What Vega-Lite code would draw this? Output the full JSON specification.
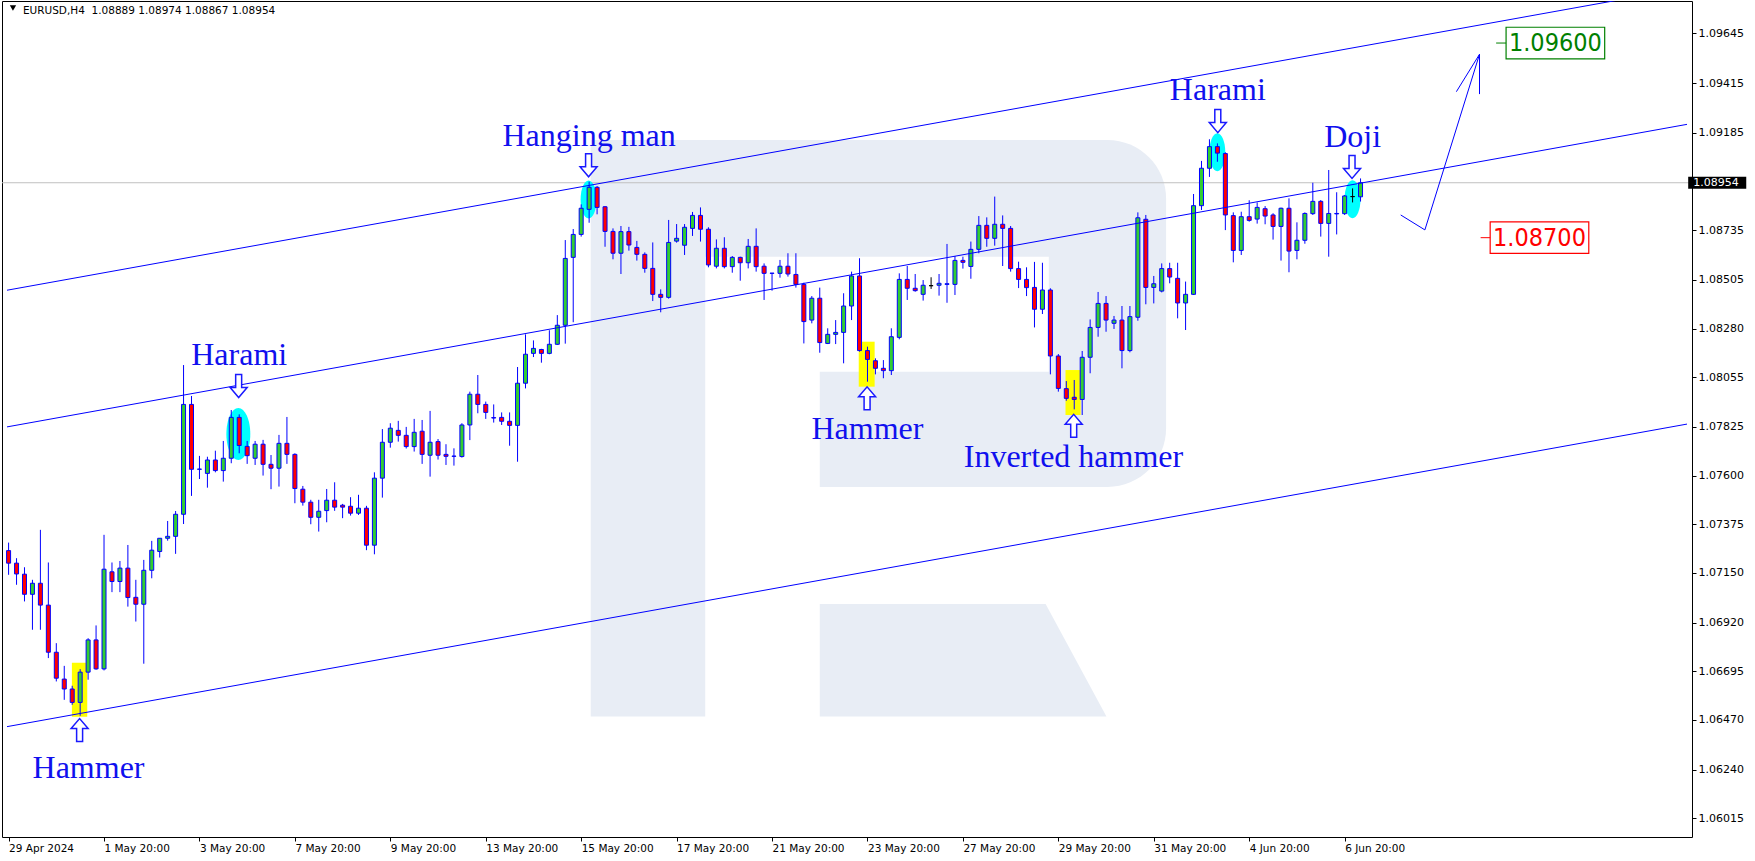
{
"$schema":"https://vega.github.io/schema/vega-lite/v6.json",
"width":1690,"height":836,
"autosize":{"type":"none"},
"padding":{"left":2,"top":1,"right":63,"bottom":24},
"background":"white",
"config":{"view":{"stroke":"#000000","strokeWidth":1},"axis":{"grid":false,"domain":false,"tickColor":"#000000","labelColor":"#000000","labelFont":"DejaVu Sans"}},
"datasets":{
"candles":[
{"i":0,"o":1.07253,"h":1.0729,"l":1.07141,"c":1.07195},
{"i":1,"o":1.07195,"h":1.07218,"l":1.07095,"c":1.07145},
{"i":2,"o":1.07144,"h":1.07176,"l":1.07018,"c":1.07051},
{"i":3,"o":1.07051,"h":1.07118,"l":1.06887,"c":1.07102},
{"i":4,"o":1.07102,"h":1.07349,"l":1.06887,"c":1.07001},
{"i":5,"o":1.07001,"h":1.07198,"l":1.06756,"c":1.06783},
{"i":6,"o":1.06783,"h":1.06825,"l":1.06648,"c":1.06663},
{"i":7,"o":1.06659,"h":1.0672,"l":1.06563,"c":1.06613},
{"i":8,"o":1.06613,"h":1.06628,"l":1.0654,"c":1.06551},
{"i":9,"o":1.06551,"h":1.06705,"l":1.06489,"c":1.06691},
{"i":10,"o":1.06691,"h":1.06848,"l":1.06656,"c":1.0684},
{"i":11,"o":1.0684,"h":1.06907,"l":1.06702,"c":1.06706},
{"i":12,"o":1.06706,"h":1.07326,"l":1.06699,"c":1.07167},
{"i":13,"o":1.07155,"h":1.07198,"l":1.07061,"c":1.0711},
{"i":14,"o":1.0711,"h":1.07205,"l":1.07061,"c":1.07172},
{"i":15,"o":1.07172,"h":1.07279,"l":1.06994,"c":1.07036},
{"i":16,"o":1.07037,"h":1.07118,"l":1.06925,"c":1.07005},
{"i":17,"o":1.07005,"h":1.0721,"l":1.0673,"c":1.07162},
{"i":18,"o":1.07162,"h":1.07298,"l":1.07125,"c":1.07255},
{"i":19,"o":1.07249,"h":1.0731,"l":1.07221,"c":1.0731},
{"i":20,"o":1.0731,"h":1.0739,"l":1.07299,"c":1.07319},
{"i":21,"o":1.07319,"h":1.07436,"l":1.07238,"c":1.07421},
{"i":22,"o":1.07421,"h":1.08111,"l":1.07376,"c":1.07929},
{"i":23,"o":1.07929,"h":1.07968,"l":1.07506,"c":1.07629},
{"i":24,"o":1.07629,"h":1.07691,"l":1.07584,"c":1.0763},
{"i":25,"o":1.0761,"h":1.07687,"l":1.07544,"c":1.07672},
{"i":26,"o":1.07672,"h":1.07715,"l":1.07615,"c":1.07623},
{"i":27,"o":1.07623,"h":1.0776,"l":1.07572,"c":1.0768},
{"i":28,"o":1.0768,"h":1.07903,"l":1.07657,"c":1.07869},
{"i":29,"o":1.07869,"h":1.07883,"l":1.07703,"c":1.07739},
{"i":30,"o":1.07735,"h":1.0776,"l":1.07654,"c":1.07692},
{"i":31,"o":1.0768,"h":1.0776,"l":1.07649,"c":1.07745},
{"i":32,"o":1.07745,"h":1.07765,"l":1.076,"c":1.07652},
{"i":33,"o":1.07652,"h":1.07695,"l":1.07537,"c":1.07634},
{"i":34,"o":1.07634,"h":1.07788,"l":1.07549,"c":1.07749},
{"i":35,"o":1.07749,"h":1.07871,"l":1.07654,"c":1.07698},
{"i":36,"o":1.07698,"h":1.07703,"l":1.07472,"c":1.0754},
{"i":37,"o":1.07537,"h":1.07552,"l":1.07461,"c":1.07477},
{"i":38,"o":1.07477,"h":1.07488,"l":1.07375,"c":1.07407},
{"i":39,"o":1.07407,"h":1.07488,"l":1.07341,"c":1.07435},
{"i":40,"o":1.07438,"h":1.07538,"l":1.07384,"c":1.07486},
{"i":41,"o":1.07486,"h":1.07569,"l":1.07437,"c":1.07454},
{"i":42,"o":1.07463,"h":1.07469,"l":1.07403,"c":1.07454},
{"i":43,"o":1.07458,"h":1.075,"l":1.07415,"c":1.07426},
{"i":44,"o":1.07426,"h":1.07511,"l":1.07418,"c":1.07449},
{"i":45,"o":1.07449,"h":1.0746,"l":1.07255,"c":1.07278},
{"i":46,"o":1.07278,"h":1.07615,"l":1.07236,"c":1.07588},
{"i":47,"o":1.07588,"h":1.07815,"l":1.07498,"c":1.07754},
{"i":48,"o":1.07754,"h":1.07842,"l":1.07729,"c":1.07819},
{"i":49,"o":1.07809,"h":1.07853,"l":1.07757,"c":1.07786},
{"i":50,"o":1.07786,"h":1.07825,"l":1.07725,"c":1.07734},
{"i":51,"o":1.07734,"h":1.07862,"l":1.07711,"c":1.078},
{"i":52,"o":1.07805,"h":1.07857,"l":1.07654,"c":1.07698},
{"i":53,"o":1.07694,"h":1.07899,"l":1.07595,"c":1.07754},
{"i":54,"o":1.07757,"h":1.07769,"l":1.07674,"c":1.07694},
{"i":55,"o":1.07698,"h":1.07745,"l":1.07649,"c":1.07689},
{"i":56,"o":1.07689,"h":1.07726,"l":1.07646,"c":1.0769},
{"i":57,"o":1.07688,"h":1.07842,"l":1.07683,"c":1.07834},
{"i":58,"o":1.07834,"h":1.07988,"l":1.07764,"c":1.07976},
{"i":59,"o":1.07976,"h":1.08065,"l":1.07888,"c":1.07929},
{"i":60,"o":1.07929,"h":1.07942,"l":1.07862,"c":1.07892},
{"i":61,"o":1.07868,"h":1.07929,"l":1.07845,"c":1.07866},
{"i":62,"o":1.07869,"h":1.07892,"l":1.07834,"c":1.07851},
{"i":63,"o":1.07851,"h":1.07892,"l":1.07738,"c":1.07832},
{"i":64,"o":1.07832,"h":1.08102,"l":1.07664,"c":1.08027},
{"i":65,"o":1.08027,"h":1.08253,"l":1.08003,"c":1.08161},
{"i":66,"o":1.08165,"h":1.08225,"l":1.08148,"c":1.08188},
{"i":67,"o":1.08183,"h":1.08186,"l":1.08122,"c":1.08165},
{"i":68,"o":1.08165,"h":1.08272,"l":1.08161,"c":1.08207},
{"i":69,"o":1.08207,"h":1.08342,"l":1.08204,"c":1.08295},
{"i":70,"o":1.08295,"h":1.08689,"l":1.0821,"c":1.08604},
{"i":71,"o":1.08609,"h":1.0874,"l":1.08309,"c":1.08715},
{"i":72,"o":1.08715,"h":1.08854,"l":1.08705,"c":1.08836},
{"i":73,"o":1.08831,"h":1.08959,"l":1.08769,"c":1.08933},
{"i":74,"o":1.08933,"h":1.08939,"l":1.08808,"c":1.0884},
{"i":75,"o":1.08843,"h":1.08846,"l":1.08658,"c":1.08729},
{"i":76,"o":1.08729,"h":1.08743,"l":1.086,"c":1.08628},
{"i":77,"o":1.08628,"h":1.08754,"l":1.08532,"c":1.08728},
{"i":78,"o":1.08728,"h":1.0875,"l":1.0864,"c":1.08666},
{"i":79,"o":1.08655,"h":1.08685,"l":1.08594,"c":1.08623},
{"i":80,"o":1.08623,"h":1.08632,"l":1.08538,"c":1.08558},
{"i":81,"o":1.08558,"h":1.08678,"l":1.08407,"c":1.08438},
{"i":82,"o":1.08438,"h":1.08461,"l":1.08355,"c":1.08424},
{"i":83,"o":1.08424,"h":1.08782,"l":1.08418,"c":1.08678},
{"i":84,"o":1.08684,"h":1.08763,"l":1.08677,"c":1.08697},
{"i":85,"o":1.08665,"h":1.08763,"l":1.0862,"c":1.08748},
{"i":86,"o":1.08743,"h":1.08819,"l":1.08708,"c":1.08803},
{"i":87,"o":1.08803,"h":1.0884,"l":1.08682,"c":1.08739},
{"i":88,"o":1.08739,"h":1.08748,"l":1.08563,"c":1.08574},
{"i":89,"o":1.08568,"h":1.08692,"l":1.08558,"c":1.08651},
{"i":90,"o":1.08651,"h":1.08702,"l":1.08558,"c":1.08566},
{"i":91,"o":1.08566,"h":1.08615,"l":1.08538,"c":1.08609},
{"i":92,"o":1.08609,"h":1.08612,"l":1.08501,"c":1.08584},
{"i":93,"o":1.08584,"h":1.08694,"l":1.08558,"c":1.0866},
{"i":94,"o":1.0866,"h":1.08743,"l":1.08543,"c":1.08566},
{"i":95,"o":1.08568,"h":1.08581,"l":1.08412,"c":1.08535},
{"i":96,"o":1.08535,"h":1.08537,"l":1.08455,"c":1.08536},
{"i":97,"o":1.08535,"h":1.08597,"l":1.08515,"c":1.08568},
{"i":98,"o":1.08568,"h":1.08628,"l":1.0852,"c":1.08532},
{"i":99,"o":1.0853,"h":1.08628,"l":1.08469,"c":1.08484},
{"i":100,"o":1.08484,"h":1.08492,"l":1.08211,"c":1.08312},
{"i":101,"o":1.08319,"h":1.0843,"l":1.08304,"c":1.0842},
{"i":102,"o":1.0842,"h":1.08469,"l":1.08168,"c":1.08215},
{"i":103,"o":1.08211,"h":1.08281,"l":1.08208,"c":1.08253},
{"i":104,"o":1.08253,"h":1.08319,"l":1.08208,"c":1.08262},
{"i":105,"o":1.08262,"h":1.08443,"l":1.08119,"c":1.08384},
{"i":106,"o":1.08384,"h":1.08543,"l":1.08319,"c":1.08523},
{"i":107,"o":1.08523,"h":1.08605,"l":1.08173,"c":1.08178},
{"i":108,"o":1.08178,"h":1.08196,"l":1.08034,"c":1.08137},
{"i":109,"o":1.08131,"h":1.08142,"l":1.08068,"c":1.08096},
{"i":110,"o":1.08096,"h":1.08134,"l":1.0805,"c":1.08085},
{"i":111,"o":1.08085,"h":1.08281,"l":1.08065,"c":1.08242},
{"i":112,"o":1.08239,"h":1.08535,"l":1.0823,"c":1.08507},
{"i":113,"o":1.08507,"h":1.08569,"l":1.08412,"c":1.08466},
{"i":114,"o":1.08466,"h":1.08532,"l":1.0845,"c":1.08455},
{"i":115,"o":1.08438,"h":1.08504,"l":1.08409,"c":1.0848},
{"i":116,"o":1.08478,"h":1.08517,"l":1.08463,"c":1.08478},
{"i":117,"o":1.0848,"h":1.08532,"l":1.08432,"c":1.08489},
{"i":118,"o":1.08484,"h":1.08671,"l":1.08399,"c":1.08487},
{"i":119,"o":1.08484,"h":1.08615,"l":1.08435,"c":1.08595},
{"i":120,"o":1.08595,"h":1.08612,"l":1.08557,"c":1.08586},
{"i":121,"o":1.08567,"h":1.08682,"l":1.0851,"c":1.08646},
{"i":122,"o":1.08646,"h":1.088,"l":1.08628,"c":1.08757},
{"i":123,"o":1.08757,"h":1.08794,"l":1.08658,"c":1.08697},
{"i":124,"o":1.08697,"h":1.0889,"l":1.08663,"c":1.08762},
{"i":125,"o":1.08762,"h":1.08803,"l":1.08569,"c":1.08743},
{"i":126,"o":1.08743,"h":1.08754,"l":1.08543,"c":1.08557},
{"i":127,"o":1.08557,"h":1.08589,"l":1.08467,"c":1.08507},
{"i":128,"o":1.08507,"h":1.08563,"l":1.0843,"c":1.08469},
{"i":129,"o":1.0847,"h":1.08588,"l":1.08285,"c":1.08369},
{"i":130,"o":1.08369,"h":1.08584,"l":1.08347,"c":1.08458},
{"i":131,"o":1.08458,"h":1.08466,"l":1.08068,"c":1.08153},
{"i":132,"o":1.08153,"h":1.08162,"l":1.07988,"c":1.08003},
{"i":133,"o":1.08002,"h":1.08037,"l":1.07946,"c":1.07957},
{"i":134,"o":1.07962,"h":1.08042,"l":1.07906,"c":1.07952},
{"i":135,"o":1.07952,"h":1.08176,"l":1.0788,"c":1.08147},
{"i":136,"o":1.08147,"h":1.08322,"l":1.08073,"c":1.08285},
{"i":137,"o":1.08285,"h":1.08449,"l":1.08242,"c":1.08396},
{"i":138,"o":1.08396,"h":1.0843,"l":1.08265,"c":1.08319},
{"i":139,"o":1.08304,"h":1.08338,"l":1.08278,"c":1.08319},
{"i":140,"o":1.08319,"h":1.08384,"l":1.08096,"c":1.08178},
{"i":141,"o":1.08178,"h":1.08384,"l":1.0817,"c":1.08335},
{"i":142,"o":1.08332,"h":1.08817,"l":1.08316,"c":1.08792},
{"i":143,"o":1.08785,"h":1.08805,"l":1.08392,"c":1.0847},
{"i":144,"o":1.0847,"h":1.08523,"l":1.08396,"c":1.08487},
{"i":145,"o":1.08453,"h":1.08581,"l":1.08447,"c":1.08557},
{"i":146,"o":1.08557,"h":1.08584,"l":1.08489,"c":1.08518},
{"i":147,"o":1.08512,"h":1.08584,"l":1.08327,"c":1.08398},
{"i":148,"o":1.08398,"h":1.08497,"l":1.08273,"c":1.08438},
{"i":149,"o":1.08438,"h":1.08902,"l":1.08435,"c":1.08848},
{"i":150,"o":1.08848,"h":1.09055,"l":1.08828,"c":1.09021},
{"i":151,"o":1.09021,"h":1.09155,"l":1.08981,"c":1.09121},
{"i":152,"o":1.09121,"h":1.09136,"l":1.09051,"c":1.09091},
{"i":153,"o":1.09089,"h":1.09095,"l":1.08735,"c":1.08805},
{"i":154,"o":1.08802,"h":1.08817,"l":1.08586,"c":1.08641},
{"i":155,"o":1.08641,"h":1.0882,"l":1.0862,"c":1.08797},
{"i":156,"o":1.08797,"h":1.08873,"l":1.08774,"c":1.0878},
{"i":157,"o":1.08786,"h":1.08863,"l":1.08765,"c":1.0884},
{"i":158,"o":1.08834,"h":1.08846,"l":1.08762,"c":1.088},
{"i":159,"o":1.08805,"h":1.08813,"l":1.08691,"c":1.08752},
{"i":160,"o":1.08752,"h":1.08839,"l":1.08594,"c":1.08836},
{"i":161,"o":1.08836,"h":1.08882,"l":1.0854,"c":1.08638},
{"i":162,"o":1.08641,"h":1.08771,"l":1.086,"c":1.08688},
{"i":163,"o":1.08688,"h":1.08817,"l":1.08672,"c":1.08812},
{"i":164,"o":1.08811,"h":1.08954,"l":1.08805,"c":1.08868},
{"i":165,"o":1.08868,"h":1.08874,"l":1.08705,"c":1.08766},
{"i":166,"o":1.08766,"h":1.09013,"l":1.08612,"c":1.08812},
{"i":167,"o":1.0881,"h":1.0891,"l":1.08715,"c":1.08812},
{"i":168,"o":1.08811,"h":1.08897,"l":1.08805,"c":1.08893},
{"i":169,"o":1.0889,"h":1.08928,"l":1.08863,"c":1.0889},
{"i":170,"o":1.08889,"h":1.08974,"l":1.08867,"c":1.08954}
],
"wm":[
{"part":"stem","i1":73.2,"i2":87.6,"p1":1.09152,"p2":1.06486},
{"part":"top","i1":87.4,"i2":131.0,"p1":1.09152,"p2":1.08612},
{"part":"lower","i1":102.0,"i2":131.0,"p1":1.0808,"p2":1.07547}
],
"wmr":[{"part":"bowl","i1":130.8,"i2":145.55,"p1":1.09152,"p2":1.07547}],
"wml":[
{"i":102.0,"p":1.07006,"p2":1.06486},
{"i":130.4,"p":1.07006,"p2":1.06486},
{"i":138.05,"p":1.06486,"p2":1.06486}
],
"pl":[{"p":1.08954}],
"yel":[
{"name":"Hammer","i1":7.96,"i2":9.89,"p1":1.06735,"p2":1.06485},
{"name":"Hammer","i1":106.9,"i2":108.9,"p1":1.08219,"p2":1.08011},
{"name":"Inverted hammer","i1":132.9,"i2":134.8,"p1":1.08088,"p2":1.0788}
],
"cy1":[{"name":"Harami","i":28.89,"p":1.07792}],
"cy2":[
{"name":"Hanging man","i":72.93,"p":1.08877},
{"name":"Harami","i":151.99,"p":1.09095},
{"name":"Doji","i":168.99,"p":1.08878}
],
"chan":[
{"ln":"upper","i":-0.2,"p":1.08457},{"ln":"upper","i":211.05,"p":1.09856},
{"ln":"middle","i":-0.2,"p":1.07825},{"ln":"middle","i":211.05,"p":1.09224},
{"ln":"lower","i":-0.2,"p":1.06439},{"ln":"lower","i":211.05,"p":1.07838}
],
"fc":[
{"seg":1,"k":1,"i":175.05,"p":1.08805},
{"seg":1,"k":2,"i":178.09,"p":1.08736},
{"seg":1,"k":3,"i":184.96,"p":1.09548},
{"seg":2,"k":1,"i":182.05,"p":1.09375},
{"seg":2,"k":2,"i":184.96,"p":1.09548},
{"seg":2,"k":3,"i":184.96,"p":1.09364}
],
"adn":[
{"name":"Harami","i":28.93,"p":1.08014},
{"name":"Hanging man","i":72.93,"p":1.09035},
{"name":"Harami","i":152.05,"p":1.09239},
{"name":"Doji","i":168.93,"p":1.09027}
],
"aup":[
{"name":"Hammer","i":8.93,"p":1.06423},
{"name":"Hammer","i":107.95,"p":1.07957},
{"name":"Inverted hammer","i":133.93,"p":1.0783}
],
"lab":[
{"t":"Hammer","i":10.05,"p":1.06203},
{"t":"Harami","i":29.0,"p":1.08112},
{"t":"Hanging man","i":73.0,"p":1.09124},
{"t":"Hammer","i":108.0,"p":1.07768},
{"t":"Inverted hammer","i":133.9,"p":1.07638},
{"t":"Harami","i":152.05,"p":1.09336},
{"t":"Doji","i":169.0,"p":1.09121}
],
"lv":[
{"kind":"tp","t":"1.09600","p":1.096,"i1":188.3,"i2":200.7,"p1":1.09673,"p2":1.09527,"d1":187.05,"ti":194.5},
{"kind":"sl","t":"1.08700","p":1.087,"i1":186.3,"i2":198.7,"p1":1.08773,"p2":1.08627,"d1":185.1,"ti":192.5}
],
"cur":[{"t":"1.08954","p":1.08954,"i1":211.2,"i2":218.5,"p1":1.08982,"p2":1.08926,"ti":211.84}],
"ttl":[{"t":"EURUSD,H4\u00a0 1.08889 1.08974 1.08867 1.08954","i":1.8,"p":1.09734,"ti":0.55,"tp":1.09762}]
},
"layer":[
{"data":{"name":"wm"},"mark":{"type":"rect","color":"#e8edf5","opacity":1},
 "encoding":{"x":{"field":"i1","type":"quantitative","scale":{"domain":[-0.2,211.05],"nice":false,"zero":false}},"x2":{"field":"i2"},
 "y":{"field":"p1","type":"quantitative","scale":{"domain":[1.059287,1.097944],"nice":false,"zero":false}},"y2":{"field":"p2"}}},
{"data":{"name":"wmr"},"mark":{"type":"rect","color":"#e8edf5","opacity":1,"cornerRadiusTopRight":115,"cornerRadiusBottomRight":115},
 "encoding":{"x":{"field":"i1","type":"quantitative","scale":{"domain":[-0.2,211.05],"nice":false,"zero":false}},"x2":{"field":"i2"},
 "y":{"field":"p1","type":"quantitative","scale":{"domain":[1.059287,1.097944],"nice":false,"zero":false}},"y2":{"field":"p2"}}},
{"data":{"name":"wml"},"mark":{"type":"area","color":"#e8edf5","opacity":1,"orient":"vertical"},
 "encoding":{"x":{"field":"i","type":"quantitative","scale":{"domain":[-0.2,211.05],"nice":false,"zero":false}},
 "y":{"field":"p","type":"quantitative","scale":{"domain":[1.059287,1.097944],"nice":false,"zero":false}},"y2":{"field":"p2"}}},
{"data":{"name":"pl"},"mark":{"type":"rule","color":"#c0c0c0","strokeWidth":1,"opacity":1},
 "encoding":{"y":{"field":"p","type":"quantitative","scale":{"domain":[1.059287,1.097944],"nice":false,"zero":false}}}},
{"data":{"name":"yel"},"mark":{"type":"rect","color":"#ffff00","opacity":1},
 "encoding":{"x":{"field":"i1","type":"quantitative","scale":{"domain":[-0.2,211.05],"nice":false,"zero":false}},"x2":{"field":"i2"},
 "y":{"field":"p1","type":"quantitative","scale":{"domain":[1.059287,1.097944],"nice":false,"zero":false}},"y2":{"field":"p2"}}},
{"data":{"name":"cy1"},"mark":{"type":"point","filled":true,"color":"#00ffff","opacity":1,"strokeWidth":0,"size":2704,"shape":"M0,-1C0.254,-1 0.46,-0.552 0.46,0C0.46,0.552 0.254,1 0,1C-0.254,1 -0.46,0.552 -0.46,0C-0.46,-0.552 -0.254,-1 0,-1Z"},
 "encoding":{"x":{"field":"i","type":"quantitative","scale":{"domain":[-0.2,211.05],"nice":false,"zero":false}},
 "y":{"field":"p","type":"quantitative","scale":{"domain":[1.059287,1.097944],"nice":false,"zero":false}}}},
{"data":{"name":"cy2"},"mark":{"type":"point","filled":true,"color":"#00ffff","opacity":1,"strokeWidth":0,"size":1444,"shape":"M0,-1C0.232,-1 0.42,-0.552 0.42,0C0.42,0.552 0.232,1 0,1C-0.232,1 -0.42,0.552 -0.42,0C-0.42,-0.552 -0.232,-1 0,-1Z"},
 "encoding":{"x":{"field":"i","type":"quantitative","scale":{"domain":[-0.2,211.05],"nice":false,"zero":false}},
 "y":{"field":"p","type":"quantitative","scale":{"domain":[1.059287,1.097944],"nice":false,"zero":false}}}},
{"data":{"name":"candles"},"mark":{"type":"rule","strokeWidth":1,"opacity":1},
 "encoding":{"x":{"field":"i","type":"quantitative","scale":{"domain":[-0.2,211.05],"nice":false,"zero":false},
   "axis":{"orient":"bottom","values":[0,12,24,36,48,60,72,84,96,108,120,132,144,156,168],
     "labelExpr":"['29 Apr 2024','1 May 20:00','3 May 20:00','7 May 20:00','9 May 20:00','13 May 20:00','15 May 20:00','17 May 20:00','21 May 20:00','23 May 20:00','27 May 20:00','29 May 20:00','31 May 20:00','4 Jun 20:00','6 Jun 20:00'][round(datum.value/12)]",
     "labelAlign":"left","labelBaseline":"top","labelPadding":2,"tickSize":4,"tickColor":"#000000","domain":false,"grid":false,"title":null,
     "labelFont":"DejaVu Sans","labelFontSize":10.5,"labelColor":"#000000","labelOverlap":false,"labelFlush":false,"labelBound":false}},
 "y":{"field":"l","type":"quantitative","scale":{"domain":[1.059287,1.097944],"nice":false,"zero":false},
   "axis":{"orient":"right","values":[1.06015,1.0624,1.0647,1.06695,1.0692,1.0715,1.07375,1.076,1.07825,1.08055,1.0828,1.08505,1.08735,1.09185,1.09415,1.09645],
     "format":".5f","labelAlign":"left","labelBaseline":"middle","labelPadding":2,"tickSize":4,"tickColor":"#000000","domain":false,"grid":false,"title":null,
     "labelFont":"DejaVu Sans","labelFontSize":11,"labelColor":"#000000","labelOverlap":false,"labelFlush":false,"labelBound":false}},
 "y2":{"field":"h"},
 "color":{"condition":{"test":"datum.o === datum.c","value":"#000000"},"value":"#0000ff"}}},
{"data":{"name":"candles"},"mark":{"type":"bar","orient":"vertical","size":4,"strokeWidth":1,"opacity":1},
 "encoding":{"x":{"field":"i","type":"quantitative","scale":{"domain":[-0.2,211.05],"nice":false,"zero":false}},
 "y":{"field":"o","type":"quantitative","scale":{"domain":[1.059287,1.097944],"nice":false,"zero":false}},
 "y2":{"field":"c"},
 "fill":{"condition":{"test":"datum.c > datum.o","value":"#32cd32"},"value":"#ff0000"},
 "stroke":{"condition":{"test":"datum.o === datum.c","value":"#000000"},"value":"#0000ff"}}},
{"data":{"name":"chan"},"mark":{"type":"line","color":"#0000ff","strokeWidth":1,"clip":true,"opacity":1},
 "encoding":{"x":{"field":"i","type":"quantitative","scale":{"domain":[-0.2,211.05],"nice":false,"zero":false}},
 "y":{"field":"p","type":"quantitative","scale":{"domain":[1.059287,1.097944],"nice":false,"zero":false}},
 "detail":{"field":"ln"}}},
{"data":{"name":"fc"},"mark":{"type":"line","color":"#0000ff","strokeWidth":1,"opacity":1},
 "encoding":{"x":{"field":"i","type":"quantitative","scale":{"domain":[-0.2,211.05],"nice":false,"zero":false}},
 "y":{"field":"p","type":"quantitative","scale":{"domain":[1.059287,1.097944],"nice":false,"zero":false}},
 "detail":{"field":"seg"},"order":{"field":"k"}}},
{"data":{"name":"adn"},"mark":{"type":"point","filled":true,"fill":"#ffffff","stroke":"#1a1aff","strokeWidth":1.5,"opacity":1,"size":529,"shape":"M-0.26,-1L0.26,-1L0.26,0.13L0.74,0.13L0,1L-0.74,0.13L-0.26,0.13Z"},
 "encoding":{"x":{"field":"i","type":"quantitative","scale":{"domain":[-0.2,211.05],"nice":false,"zero":false}},
 "y":{"field":"p","type":"quantitative","scale":{"domain":[1.059287,1.097944],"nice":false,"zero":false}}}},
{"data":{"name":"aup"},"mark":{"type":"point","filled":true,"fill":"#ffffff","stroke":"#1a1aff","strokeWidth":1.5,"opacity":1,"size":529,"shape":"M-0.26,1L0.26,1L0.26,-0.13L0.74,-0.13L0,-1L-0.74,-0.13L-0.26,-0.13Z"},
 "encoding":{"x":{"field":"i","type":"quantitative","scale":{"domain":[-0.2,211.05],"nice":false,"zero":false}},
 "y":{"field":"p","type":"quantitative","scale":{"domain":[1.059287,1.097944],"nice":false,"zero":false}}}},
{"data":{"name":"lab"},"mark":{"type":"text","font":"Liberation Serif","fontSize":32,"align":"center","baseline":"alphabetic","color":"#1010ee","opacity":1},
 "encoding":{"x":{"field":"i","type":"quantitative","scale":{"domain":[-0.2,211.05],"nice":false,"zero":false}},
 "y":{"field":"p","type":"quantitative","scale":{"domain":[1.059287,1.097944],"nice":false,"zero":false}},
 "text":{"field":"t"}}},
{"data":{"name":"lv"},"mark":{"type":"rect","fill":"#ffffff","strokeWidth":1.2,"opacity":1},
 "encoding":{"x":{"field":"i1","type":"quantitative","scale":{"domain":[-0.2,211.05],"nice":false,"zero":false}},"x2":{"field":"i2"},
 "y":{"field":"p1","type":"quantitative","scale":{"domain":[1.059287,1.097944],"nice":false,"zero":false}},"y2":{"field":"p2"},
 "stroke":{"field":"kind","type":"nominal","scale":{"domain":["tp","sl"],"range":["#008000","#ff0000"]},"legend":null}}},
{"data":{"name":"lv"},"mark":{"type":"rule","strokeWidth":1,"opacity":1},
 "encoding":{"x":{"field":"d1","type":"quantitative","scale":{"domain":[-0.2,211.05],"nice":false,"zero":false}},"x2":{"field":"i1"},
 "y":{"field":"p","type":"quantitative","scale":{"domain":[1.059287,1.097944],"nice":false,"zero":false}},
 "color":{"field":"kind","type":"nominal","scale":{"domain":["tp","sl"],"range":["#008000","#ff0000"]},"legend":null}}},
{"data":{"name":"lv"},"mark":{"type":"text","font":"DejaVu Sans Condensed, Liberation Sans, sans-serif","fontSize":25,"align":"center","baseline":"middle","opacity":1},
 "encoding":{"x":{"field":"ti","type":"quantitative","scale":{"domain":[-0.2,211.05],"nice":false,"zero":false}},
 "y":{"field":"p","type":"quantitative","scale":{"domain":[1.059287,1.097944],"nice":false,"zero":false}},
 "text":{"field":"t"},
 "color":{"field":"kind","type":"nominal","scale":{"domain":["tp","sl"],"range":["#008000","#ff0000"]},"legend":null}}},
{"data":{"name":"cur"},"mark":{"type":"rect","color":"#000000","opacity":1},
 "encoding":{"x":{"field":"i1","type":"quantitative","scale":{"domain":[-0.2,211.05],"nice":false,"zero":false}},"x2":{"field":"i2"},
 "y":{"field":"p1","type":"quantitative","scale":{"domain":[1.059287,1.097944],"nice":false,"zero":false}},"y2":{"field":"p2"}}},
{"data":{"name":"cur"},"mark":{"type":"text","font":"DejaVu Sans","fontSize":11,"align":"left","baseline":"middle","color":"#ffffff","opacity":1},
 "encoding":{"x":{"field":"ti","type":"quantitative","scale":{"domain":[-0.2,211.05],"nice":false,"zero":false}},
 "y":{"field":"p","type":"quantitative","scale":{"domain":[1.059287,1.097944],"nice":false,"zero":false}},
 "text":{"field":"t"}}},
{"data":{"name":"ttl"},"mark":{"type":"text","font":"DejaVu Sans","fontSize":10.5,"align":"left","baseline":"alphabetic","color":"#000000","opacity":1},
 "encoding":{"x":{"field":"i","type":"quantitative","scale":{"domain":[-0.2,211.05],"nice":false,"zero":false}},
 "y":{"field":"p","type":"quantitative","scale":{"domain":[1.059287,1.097944],"nice":false,"zero":false}},
 "text":{"field":"t"}}},
{"data":{"name":"ttl"},"mark":{"type":"point","shape":"triangle-down","filled":true,"color":"#000000","size":40,"opacity":1},
 "encoding":{"x":{"field":"ti","type":"quantitative","scale":{"domain":[-0.2,211.05],"nice":false,"zero":false}},
 "y":{"field":"tp","type":"quantitative","scale":{"domain":[1.059287,1.097944],"nice":false,"zero":false}}}}
]
}
